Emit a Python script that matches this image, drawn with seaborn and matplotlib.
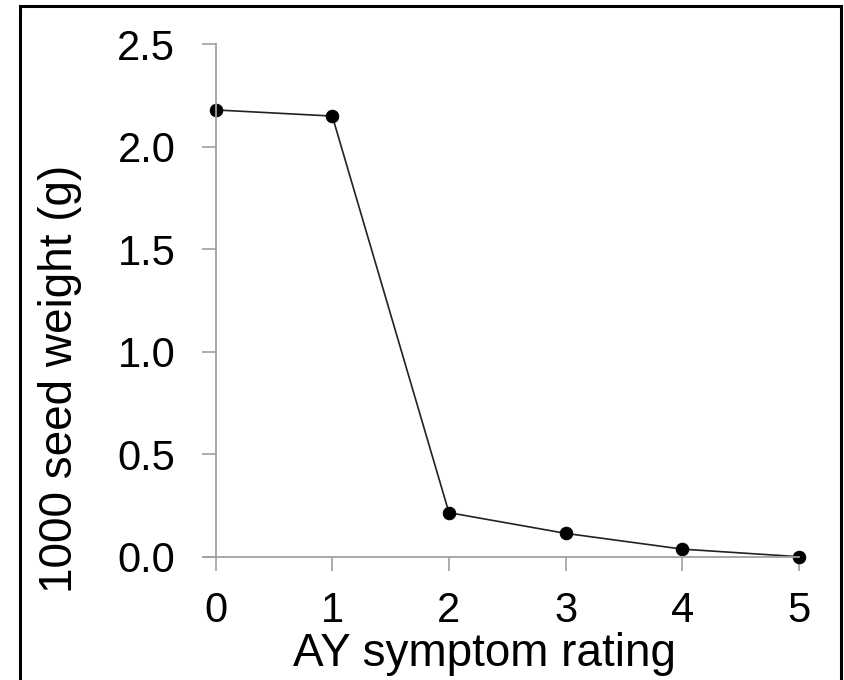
import numpy as np
import pandas as pd
import matplotlib
matplotlib.use('Agg')
import matplotlib.pyplot as plt
from matplotlib.patches import Rectangle
import seaborn as sns

# values
rating = [0, 1, 2, 3, 4, 5]
seed_weight = [2.18, 2.15, 0.215, 0.114, 0.037, 0.0]
xticks = [0, 1, 2, 3, 4, 5]
yticks = [0.0, 0.5, 1.0, 1.5, 2.0, 2.5]

sns.set_theme(style='white')
plt.rcParams['font.family'] = ['Liberation Sans', 'DejaVu Sans']

df = pd.DataFrame({'rating': rating, 'weight': seed_weight})

fig = plt.figure(figsize=(8.44, 6.8), dpi=100)
ax = fig.add_axes([0.2416, 0.1813, 0.7051, 0.7535])

sns.lineplot(data=df, x='rating', y='weight', ax=ax, color='#222222', linewidth=1.2,
             marker='o', markersize=9, markerfacecolor='black', markeredgecolor='black',
             clip_on=False)

ax.set_xlim(-0.1, 5.0)
ax.set_ylim(0, 2.5)
ax.set_xticks(xticks)
ax.set_yticks(yticks)
ax.set_xticklabels([str(v) for v in xticks])
ax.set_yticklabels([f'{v:.1f}' for v in yticks])

for s in ['top', 'right']:
    ax.spines[s].set_visible(False)
ax.spines['left'].set_position(('data', 0))
for s in ['left', 'bottom']:
    ax.spines[s].set_color('#a0a0a0')
    ax.spines[s].set_linewidth(1.3)

ax.tick_params(axis='both', which='major', bottom=True, left=True, direction='out',
               length=10, width=1.2, color='#a0a0a0', labelsize=30, labelcolor='black')
ax.tick_params(axis='y', pad=19)
ax.tick_params(axis='x', pad=15)

ax.set_xlabel('AY symptom rating', fontsize=33, color='black', va='baseline')
ax.xaxis.set_label_coords(0.4707, -0.2133)
ax.set_ylabel('1000 seed weight (g)', fontsize=33, color='black', va='center')
ax.yaxis.set_label_coords(-0.2418, 0.348)

# black frame around the figure
fig.patches.append(Rectangle((20 / 844, -0.02), (841 - 20) / 844, 1.02 - 6 / 680,
                             transform=fig.transFigure, fill=False,
                             edgecolor='black', linewidth=2.2))

fig.savefig('out.png', dpi=100, facecolor='white')
